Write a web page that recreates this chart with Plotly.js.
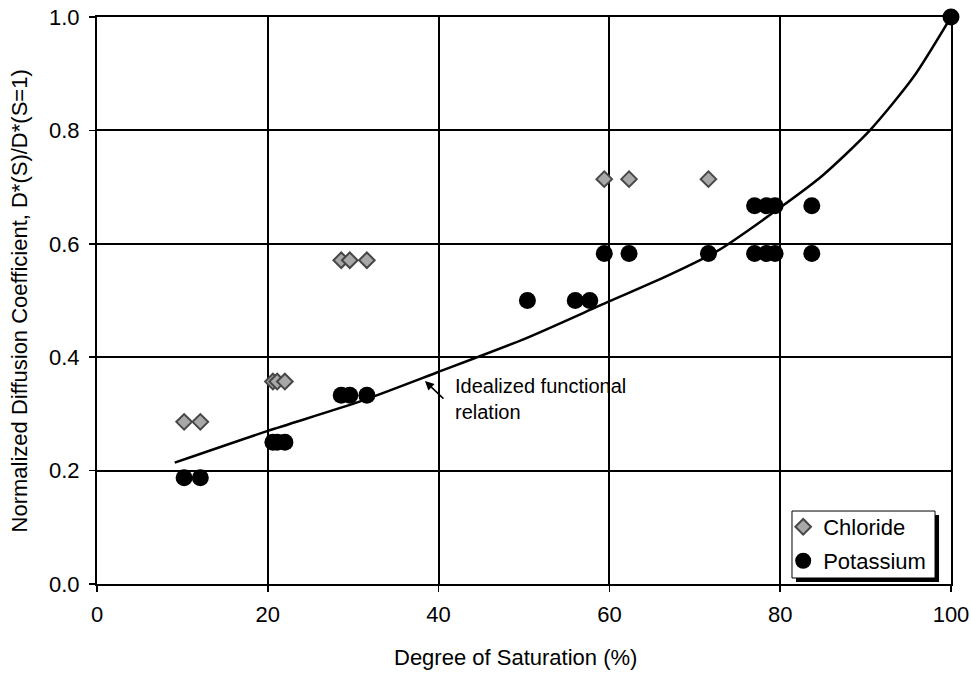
<!DOCTYPE html>
<html>
<head>
<meta charset="utf-8">
<script src="https://cdn.plot.ly/plotly-3.0.1.min.js"></script>
<style>
  html, body { margin: 0; padding: 0; background: #ffffff; }
  #chart { width: 971px; height: 673px; }
</style>
</head>
<body>
<div id="chart"></div>
<script>
// Chloride measurements: degree of saturation (%) and normalized D*
const chlorideS = [10.2, 12.1, 20.6, 21.1, 22.0, 28.6, 29.6, 31.6, 59.4, 62.3, 71.6];
const chlorideD = [0.286, 0.286, 0.357, 0.357, 0.357, 0.571, 0.571, 0.571, 0.714, 0.714, 0.714];

// Potassium measurements
const potassiumS = [10.2, 12.1, 20.6, 21.1, 22.0, 28.6, 29.6, 31.6, 50.4, 56.0, 57.7,
                    59.4, 62.3, 71.6, 77.0, 78.4, 79.4, 83.7, 77.0, 78.4, 79.4, 83.7, 100];
const potassiumD = [0.1875, 0.1875, 0.25, 0.25, 0.25, 0.333, 0.333, 0.333, 0.5, 0.5, 0.5,
                    0.583, 0.583, 0.583, 0.583, 0.583, 0.583, 0.583, 0.667, 0.667, 0.667, 0.667, 1.0];

// Idealized functional relation (curve through these points)
const curveS = [9.1, 20, 30.8, 39.8, 50, 59.9, 66, 72.6, 80, 85, 90.5, 95.6, 100];
const curveD = [0.214, 0.270, 0.322, 0.373, 0.432, 0.498, 0.538, 0.587, 0.664, 0.721, 0.800, 0.894, 1.0];

// Axis ticks
const xTicks = [0, 20, 40, 60, 80, 100];
const yTicks = [0.0, 0.2, 0.4, 0.6, 0.8, 1.0];

const FONT = 'Liberation Sans, Arial, sans-serif';

const traces = [
  {
    x: curveS, y: curveD, type: 'scatter', mode: 'lines',
    line: { color: '#000000', width: 2.5, shape: 'spline', smoothing: 0.7 },
    showlegend: false, hoverinfo: 'skip'
  },
  {
    x: chlorideS, y: chlorideD, type: 'scatter', mode: 'markers', name: 'Chloride',
    legend: 'legend',
    cliponaxis: false,
    marker: { symbol: 'diamond', size: 12, color: '#a8a8a8',
              line: { color: '#474747', width: 2 } }
  },
  {
    x: potassiumS, y: potassiumD, type: 'scatter', mode: 'markers', name: 'Potassium',
    legend: 'legend2',
    cliponaxis: false,
    marker: { symbol: 'circle', size: 17, color: '#000000',
              line: { color: '#000000', width: 0 } }
  }
];

const axisCommon = {
  showline: true, mirror: true, linecolor: '#000000', linewidth: 2,
  showgrid: true, gridcolor: '#000000', gridwidth: 2,
  zeroline: false,
  ticks: 'outside', ticklen: 6, tickwidth: 1.5, tickcolor: '#000000',
  tickfont: { family: FONT, size: 22, color: '#000000' }
};

const layout = {
  width: 971, height: 673,
  margin: { l: 97, r: 20, t: 17, b: 89 },
  paper_bgcolor: '#ffffff', plot_bgcolor: '#ffffff',
  font: { family: FONT, color: '#000000' },
  xaxis: Object.assign({}, axisCommon, {
    range: [0, 100], tickvals: xTicks, ticktext: xTicks.map(String),
    ticklabelstandoff: 4
  }),
  yaxis: Object.assign({}, axisCommon, {
    range: [0, 1], tickvals: yTicks, ticktext: yTicks.map(v => v.toFixed(1)),
    ticklabelstandoff: 5
  }),
  legend: {
    x: 0.8035, y: 0.1005, xanchor: 'left', yanchor: 'middle',
    bgcolor: 'rgba(0,0,0,0)', borderwidth: 0,
    font: { family: FONT, size: 22, color: '#000000' }
  },
  legend2: {
    x: 0.8035, y: 0.0406, xanchor: 'left', yanchor: 'middle',
    bgcolor: 'rgba(0,0,0,0)', borderwidth: 0,
    font: { family: FONT, size: 22, color: '#000000' }
  },
  shapes: [
    // legend drop shadow
    { type: 'rect', xref: 'paper', yref: 'paper', layer: 'above',
      x0: 0.8185, x1: 0.986, y0: 0.0035, y1: 0.1217,
      fillcolor: '#000000', line: { width: 0 } },
    // legend box
    { type: 'rect', xref: 'paper', yref: 'paper', layer: 'above',
      x0: 0.8138, x1: 0.9813, y0: 0.0106, y1: 0.1287,
      fillcolor: '#ffffff', line: { color: '#000000', width: 1 } }
  ],
  annotations: [
    // axis titles
    { x: 0.4906, y: -0.129, xref: 'paper', yref: 'paper', xanchor: 'center', yanchor: 'middle',
      showarrow: false, text: 'Degree of Saturation (%)',
      font: { family: FONT, size: 22, color: '#000000' } },
    { x: -0.0902, y: 0.5, xref: 'paper', yref: 'paper', xanchor: 'center', yanchor: 'middle',
      showarrow: false, textangle: -90,
      text: 'Normalized Diffusion Coefficient, D*(S)/D*(S=1)',
      font: { family: FONT, size: 22, color: '#000000' } },
    // curve label with pointer
    { x: 41.7, y: 0.326, xref: 'x', yref: 'y', xanchor: 'left', yanchor: 'middle',
      align: 'left', showarrow: false,
      text: 'Idealized functional<br>relation',
      font: { family: FONT, size: 20, color: '#000000' } },
    { x: 38.4, y: 0.358, xref: 'x', yref: 'y', text: '',
      showarrow: true, arrowhead: 2, arrowsize: 1.2, arrowwidth: 1.5, arrowcolor: '#000000',
      ax: 20, ay: 19 }
  ]
};

Plotly.newPlot('chart', traces, layout, { displayModeBar: false, staticPlot: true });
</script>
</body>
</html>
